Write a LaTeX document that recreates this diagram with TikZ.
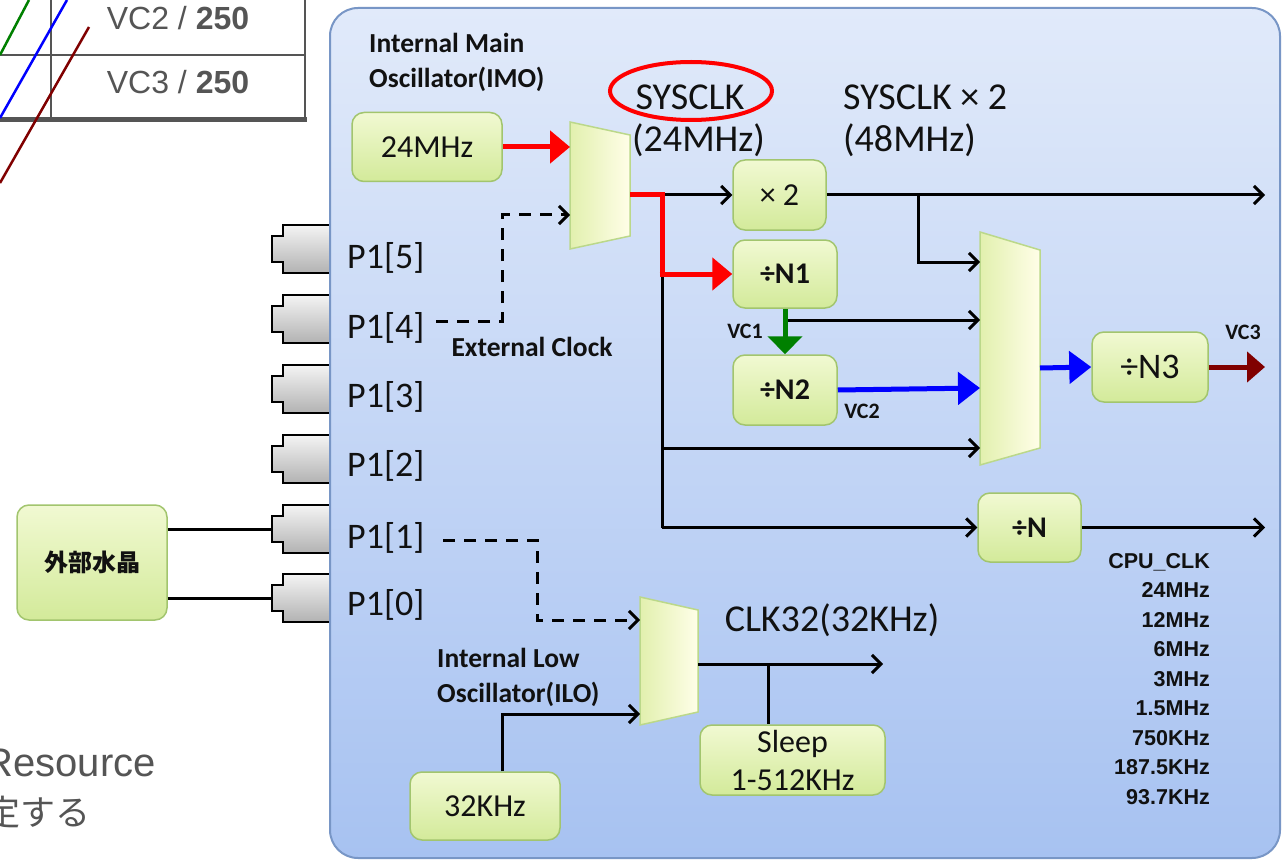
\documentclass[tikz,border=0pt]{standalone}
\usepackage{fontspec}
\setmainfont{Carlito}
\newfontfamily\arialf{Liberation Sans}
\newfontfamily\jpf{Noto Sans CJK JP}
\usetikzlibrary{arrows.meta,shapes.geometric}
\definecolor{panelTop}{HTML}{E1EAFA}
\definecolor{panelBot}{HTML}{A7C2F1}
\definecolor{panelLine}{HTML}{7896C6}
\definecolor{boxTop}{HTML}{F1F9D2}
\definecolor{boxBot}{HTML}{D3EA9A}
\definecolor{boxLine}{HTML}{A2C56E}
\definecolor{muxL}{HTML}{E2F0AE}
\definecolor{muxR}{HTML}{FFFEE8}
\definecolor{muxLine}{HTML}{BBD88A}
\definecolor{pinTop}{HTML}{F4F4F4}
\definecolor{pinBot}{HTML}{B2B2B2}
\definecolor{greyText}{HTML}{555555}
\definecolor{vcGreen}{HTML}{008000}
\definecolor{vcRed}{HTML}{800000}
\definecolor{inkc}{HTML}{111111}
\begin{document}
\begin{tikzpicture}[x=1pt,y=-1pt,
  box/.style={draw=boxLine,line width=1.5pt,rounded corners=12pt,top color=boxTop,bottom color=boxBot,inner sep=0pt,align=center,text=inkc,font=\fontsize{32}{38}\selectfont},
  boxb/.style={box,font=\fontsize{30}{34}\selectfont\bfseries},
  mux/.style={draw=muxLine,line width=1.5pt,left color=muxL,right color=muxR},
  pin/.style={draw=black,line width=1.5pt,top color=pinTop,bottom color=pinBot},
  plab/.style={anchor=west,inner sep=0pt,text=inkc,font=\fontsize{36}{40}\selectfont},
  blab/.style={inner sep=0pt,text=inkc,align=left,font=\fontsize{27.5}{35}\selectfont\bfseries},
  big/.style={inner sep=0pt,text=inkc,font=\fontsize{38}{42}\selectfont},
  vlab/.style={inner sep=0pt,text=inkc,font=\fontsize{22}{26}\selectfont\bfseries},
  wire/.style={line width=3pt,draw=black},
  arr/.style={wire,-{Straight Barb[length=9pt,width=18pt]}},
  dashedarr/.style={arr,dash pattern=on 12pt off 9pt},
  redarr/.style={draw=red,line width=5pt,-{Triangle[length=20pt,width=32pt]}},
  bluearr/.style={draw=blue,line width=5pt,-{Triangle[length=22pt,width=32pt]}},
  greenarr/.style={draw=vcGreen,line width=5pt,-{Triangle[length=18pt,width=34pt]}},
  darkarr/.style={draw=vcRed,line width=5pt,-{Triangle[length=18pt,width=30pt]}},
  tline/.style={draw=greyText,line width=2.5pt},
  ttext/.style={inner sep=0pt,text=greyText,font=\arialf\fontsize{32}{36}\selectfont}
]
\useasboundingbox (0,0) rectangle (1282,861);
\clip (0,0) rectangle (1282,861);
\fill[white] (0,0) rectangle (1282,861);

% top-left table fragment
\draw[tline] (0,55) -- (305,55);
\draw[tline] (51,0) -- (51,120);
\draw[tline] (305,0) -- (305,120);
\draw[draw=greyText,line width=5pt] (0,120) -- (307,120);
\node[ttext] (vc2t) at (178,18) {VC2 / \textbf{250}};
\node[ttext] (vc3t) at (178,82) {VC3 / \textbf{250}};
\draw[draw=vcGreen,line width=2.5pt] (0,55) -- (29,0);
\draw[draw=blue,line width=2.5pt] (0,118) -- (67,0);
\draw[draw=vcRed,line width=2.5pt] (0,183) -- (89,27);

% bottom-left text fragments
\node[anchor=east,inner sep=0pt,text=greyText,font=\arialf\fontsize{40}{44}\selectfont] (res) at (156,763) {Resource};
\node[anchor=east,inner sep=0pt,text=greyText,font=\jpf\fontsize{35}{40}\selectfont] (jp) at (91,812) {定する};

% pins
\foreach \c/\n in {249/5,319/4,389/3,459/2,529/1,598/0}{
  \path[pin] (331,\c-24) -- (283,\c-24) -- (283,\c-13) -- (272,\c-13) -- (272,\c+13) -- (283,\c+13) -- (283,\c+24) -- (331,\c+24);
  \coordinate (pin\n) at (272,\c);
}

% panel
\draw[draw=panelLine,line width=2pt,rounded corners=28pt,top color=panelTop,bottom color=panelBot] (330,8) rectangle (1280,858);

% external crystal
\node[boxb,minimum width=150,minimum height=115,font=\jpf\fontsize{24}{28}\selectfont\bfseries] (xtal) at (92,562.5) {外部水晶};
\draw[wire] (xtal.east |- pin1) -- (pin1);
\draw[wire] (xtal.east |- pin0) -- (pin0);

% pin labels
\node[plab] (p5) at (347,258) {P1[5]};
\node[plab] (p4) at (347,328) {P1[4]};
\node[plab] (p3) at (347,397) {P1[3]};
\node[plab] (p2) at (347,466) {P1[2]};
\node[plab] (p1) at (347,538) {P1[1]};
\node[plab] (p0) at (347,605) {P1[0]};

% labels
\node[blab,anchor=west] (imo) at (369,62) {Internal Main\\Oscillator(IMO)};
\node[blab] (extc) at (532,347) {External Clock};
\node[blab,anchor=west] (ilo) at (437,677) {Internal Low\\Oscillator(ILO)};
\node[big] (sys) at (690,97) {SYSCLK};
\node[draw=red,line width=4pt,ellipse,minimum width=162,minimum height=58,inner sep=0pt] (ell) at (691,91) {};
\node[big,anchor=west] (sys24) at (632,140) {(24MHz)};
\node[big,anchor=west] (sys2) at (843,97) {SYSCLK × 2};
\node[big,anchor=west] (sys48) at (843,140) {(48MHz)};
\node[big] (clk32) at (832,620) {CLK32(32KHz)};
\node[vlab] (vc1) at (745,331) {VC1};
\node[vlab] (vc2) at (862,411) {VC2};
\node[vlab] (vc3) at (1243,332) {VC3};
\node[anchor=north east,inner sep=0pt,align=right,text=inkc,font=\arialf\fontsize{21.5}{29.5}\selectfont\bfseries] (cpu) at (1210,553)
 {CPU\_CLK\\24MHz\\12MHz\\6MHz\\3MHz\\1.5MHz\\750KHz\\187.5KHz\\93.7KHz};

% boxes
\node[box,minimum width=150,minimum height=69] (osc24) at (427,147) {24MHz};
\node[box,minimum width=93,minimum height=70] (x2) at (779.5,195) {× 2};
\node[boxb,minimum width=104,minimum height=68] (n1) at (785,274) {÷N1};
\node[boxb,minimum width=104,minimum height=70] (n2) at (785,390) {÷N2};
\node[box,minimum width=116,minimum height=70,font=\fontsize{36}{40}\selectfont] (n3) at (1150,367) {÷N3};
\node[boxb,minimum width=103,minimum height=69] (nn) at (1029.5,527.5) {÷N};
\node[box,minimum width=150,minimum height=68] (osc32) at (485,806) {32KHz};
\node[box,minimum width=185,minimum height=70,font=\fontsize{32}{38}\selectfont] (sleep) at (792.5,760) {Sleep\\1-512KHz};

% muxes
\path[mux] (570,122) -- (630,135) -- (630,236) -- (570,249) -- cycle;
\coordinate (m1a) at (570,147);
\coordinate (m1b) at (570,215);
\coordinate (m1o) at (630,195);
\path[mux] (980,232) -- (1040,250) -- (1040,448) -- (980,465) -- cycle;
\coordinate (m2a) at (980,262);
\coordinate (m2b) at (980,320);
\coordinate (m2c) at (980,388);
\coordinate (m2d) at (980,448);
\coordinate (m2o) at (1040,368);
\path[mux] (640,597) -- (698,610) -- (698,712) -- (640,725) -- cycle;
\coordinate (m3a) at (640,620);
\coordinate (m3b) at (640,714);
\coordinate (m3o) at (698,664);

% SYSCLK distribution
\coordinate (j1) at (662,195);
\coordinate (j2) at (662,527.5);
\coordinate (e4) at (436,321);
\coordinate (e1) at (443,540);
\coordinate (out48) at (1265,195);
\coordinate (outcpu) at (1265,527.5);
\coordinate (outvc3) at (1265,367);
\coordinate (out32) at (883,664);
\coordinate (b48) at (918,195);
\coordinate (j3) at (768,664);

\draw[redarr] (osc24.east) -- (m1a);
\draw[dashedarr] (e4) -- (502,321) -- (502,215) -- (m1b);
\draw[wire] (j1) -- (j2);
\draw[arr] (j1) -- (x2.west);
\draw[draw=red,line width=5pt] (m1o) -- (j1) -- (j1 |- n1.west);
\draw[redarr] ([xshift=-2.5pt]j1 |- n1.west) -- (n1.west);
\draw[arr] (x2.east) -- (out48);
\draw[arr] (b48) |- (m2a);
\draw[arr] (n1.south |- m2b) -- (m2b);
\draw[greenarr] (n1.south) -- (n2.north);
\draw[bluearr] (n2.east) -- (m2c);
\draw[arr] (j1 |- m2d) -- (m2d);
\draw[arr] (j2) -- (nn.west);
\draw[bluearr] (m2o) -- (n3.west);
\draw[darkarr] (n3.east) -- (outvc3);
\draw[arr] (nn.east) -- (outcpu);

% low oscillator
\draw[dashedarr] (e1) -- (537,540) -- (537,620) -- (m3a);
\draw[arr] ([xshift=17pt]osc32.north) |- (m3b);
\draw[arr] (m3o) -- (out32);
\draw[wire] (j3) -- (j3 |- sleep.north);
\end{tikzpicture}
\end{document}
